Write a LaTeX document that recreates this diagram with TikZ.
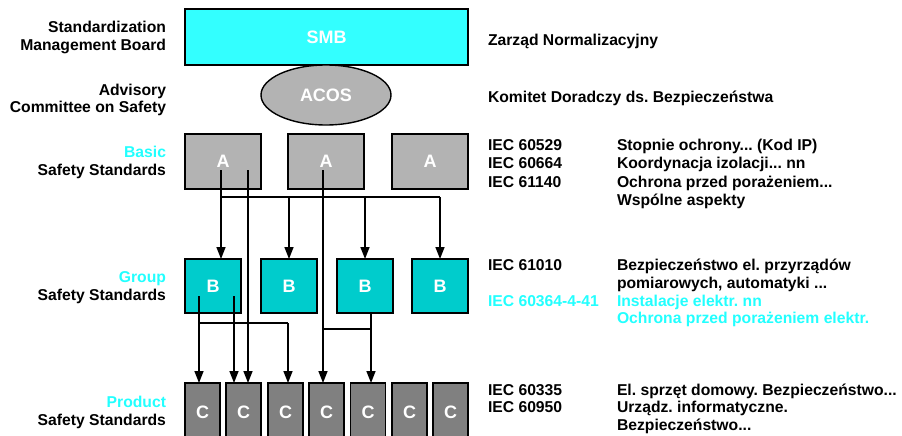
\documentclass[tikz,border=0pt]{standalone}
\usepackage{fontspec}
\setmainfont{Liberation Sans}
\usetikzlibrary{arrows.meta,shapes.geometric,calc}
\definecolor{smbcyan}{HTML}{33FFFF}
\definecolor{bcyan}{HTML}{00CCCC}
\definecolor{lgray}{HTML}{B3B3B3}
\definecolor{dgray}{HTML}{808080}
\definecolor{txtcyan}{HTML}{22FFFF}
\frenchspacing
\begin{document}
\begin{tikzpicture}[x=1pt,y=-1pt,
  every node/.style={inner sep=0pt, outer sep=0pt},
  lbl/.style={font=\fontsize{15.7}{18}\selectfont\bfseries},
  lft/.style={lbl, anchor=base east},
  rgt/.style={lbl, anchor=base west},
  inner/.style={font=\fontsize{18}{20}\selectfont\bfseries, text=white},
  boxbase/.style={draw=black, line width=1.4pt},
  smbbox/.style={boxbase, fill=smbcyan, minimum width=283pt, minimum height=56pt},
  acos/.style={boxbase, ellipse, fill=lgray, minimum width=130pt, minimum height=60pt},
  abox/.style={boxbase, fill=lgray, minimum width=76pt, minimum height=55pt},
  bbox/.style={boxbase, fill=bcyan, minimum width=56pt, minimum height=54pt},
  cbox/.style={boxbase, fill=dgray, minimum width=35pt, minimum height=70pt},
  ln/.style={line width=1.5pt},
  arr/.style={ln, -{Triangle[length=12pt,width=9pt]}}
]
\useasboundingbox (0,0) rectangle (902,436);
% boxes
\node[smbbox, inner] (smb) at (326.5,37) {SMB};
\node[acos, inner] (acos) at (326,95) {ACOS};
\node[abox, inner] (a1) at (223,161.5) {A};
\node[abox, inner] (a2) at (326,161.5) {A};
\node[abox, inner] (a3) at (430,161.5) {A};
\node[bbox, inner] (b1) at (213,286) {B};
\node[bbox, inner] (b2) at (289,286) {B};
\node[bbox, inner] (b3) at (365,286) {B};
\node[bbox, inner] (b4) at (440,286) {B};
\foreach \i/\x in {1/202.5,2/243.5,3/285.5,4/326.5,5/368,6/409.5,7/450.5}
  \node[cbox, anchor=north] (c\i) at (\x,383) {};
\foreach \i in {1,...,7}
  \node[inner] (ct\i) at ($(c\i.north)+(0,29)$) {C};
% connector start points
\coordinate (a1p) at (221,170);
\coordinate (a1q) at (248,170);
\coordinate (a2p) at (323,170);
\coordinate (b1p) at (199,296);
\coordinate (b1q) at (234,296);
\coordinate (ha) at (221,197);
\coordinate (hb) at (199,323);
\coordinate (hc) at (323,329);
% A level
\draw[arr] (a1p) -- (a1p |- b1.north);
\draw[ln] (ha) -- (ha -| b4.north);
\draw[arr] (ha -| b2.north) -- (b2.north);
\draw[arr] (ha -| b3.north) -- (b3.north);
\draw[arr] (ha -| b4.north) -- (b4.north);
\draw[arr] (a1q) -- (a1q |- c2.north);
\draw[arr] (a2p) -- (a2p |- c4.north);
% B level
\draw[arr] (b1p) -- (b1p |- c1.north);
\draw[arr] (b1q) -- (b1q |- c2.north);
\draw[ln] (hb) -- (hb -| 288,0);
\draw[arr] (hb -| 288,0) -- (288,0 |- c3.north);
\draw[arr] (371,0 |- b3.south) -- (371,0 |- c5.north);
\draw[ln] (hc) -- (hc -| 371,0);
% left labels
\node[lft] (l1) at (166,32.5) {Standardization};
\node[lft] (l2) at (166,50.5) {Management Board};
\node[lft] (l3) at (166,95.5) {Advisory};
\node[lft] (l4) at (166,112.5) {Committee on Safety};
\node[lft, text=txtcyan] (l5) at (166,157.5) {Basic};
\node[lft] (l6) at (166,175.5) {Safety Standards};
\node[lft, text=txtcyan] (l7) at (166,282.5) {Group};
\node[lft] (l8) at (166,300.5) {Safety Standards};
\node[lft, text=txtcyan] (l9) at (166,407.5) {Product};
\node[lft] (l10) at (166,425) {Safety Standards};
% right texts
\node[rgt] (r1) at (488,45.5) {Zarząd Normalizacyjny};
\node[rgt] (r2) at (488,102.5) {Komitet Doradczy ds. Bezpieczeństwa};
\node[rgt] (r3) at (488,150.5) {IEC 60529};
\node[rgt] (r4) at (488,168.5) {IEC 60664};
\node[rgt] (r5) at (488,187) {IEC 61140};
\node[rgt] (r6) at (617,150.5) {Stopnie ochrony... (Kod IP)};
\node[rgt] (r7) at (617,168.5) {Koordynacja izolacji... nn};
\node[rgt] (r8) at (617,187) {Ochrona przed porażeniem...};
\node[rgt] (r9) at (617,205) {Wspólne aspekty};
\node[rgt] (r10) at (488,270.5) {IEC 61010};
\node[rgt] (r11) at (617,270.5) {Bezpieczeństwo el. przyrządów};
\node[rgt] (r12) at (617,288.5) {pomiarowych, automatyki ...};
\node[rgt, text=txtcyan] (r13) at (488,306.5) {IEC 60364-4-41};
\node[rgt, text=txtcyan] (r14) at (617,306.5) {Instalacje elektr. nn};
\node[rgt, text=txtcyan] (r15) at (617,323.5) {Ochrona przed porażeniem elektr.};
\node[rgt] (r16) at (488,395.5) {IEC 60335};
\node[rgt] (r17) at (617,395.5) {El. sprzęt domowy. Bezpieczeństwo...};
\node[rgt] (r18) at (488,412.5) {IEC 60950};
\node[rgt] (r19) at (617,412.5) {Urządz. informatyczne.};
\node[rgt] (r20) at (617,430.5) {Bezpieczeństwo...};
\end{tikzpicture}
\end{document}
